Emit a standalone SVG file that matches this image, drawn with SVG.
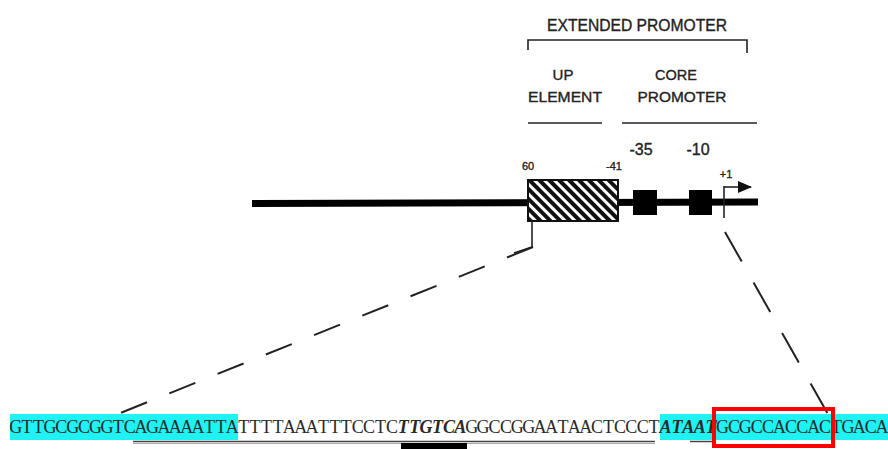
<svg xmlns="http://www.w3.org/2000/svg" width="888" height="449" viewBox="0 0 888 449">
<style>
.lbl{font-family:"Liberation Sans",Arial,sans-serif;fill:#222;stroke:#222;stroke-width:0.35;}
.seq{font-family:"Liberation Serif","Times New Roman",serif;font-size:18px;fill:#2a2a2a;}
.thin{stroke:#222;stroke-width:1.6;fill:none;}
.dash{stroke:#222;stroke-width:2;fill:none;}
</style>
<defs>
<pattern id="hatch" patternUnits="userSpaceOnUse" width="7" height="7" patternTransform="rotate(-45)">
<rect width="7" height="7" fill="#fff"/>
<rect x="0" y="0" width="4" height="7" fill="#111"/>
</pattern>
<marker id="arr" markerWidth="14" markerHeight="12" refX="13" refY="6" orient="auto" markerUnits="userSpaceOnUse">
<path d="M0,0 L14,6 L0,12 Z" fill="#111"/>
</marker>
</defs>
<rect width="888" height="449" fill="#fff"/>

<g id="extended-promoter">
<text class="lbl" x="637" y="31" font-size="16" text-anchor="middle" textLength="180" lengthAdjust="spacingAndGlyphs">EXTENDED PROMOTER</text>
<path d="M528,50 V40 H747 V53" class="thin" stroke-width="2"/>
</g>

<g id="up-element-label">
<text class="lbl" x="563" y="80" font-size="15" text-anchor="middle">UP</text>
<text class="lbl" x="565" y="102" font-size="15" text-anchor="middle" textLength="74" lengthAdjust="spacingAndGlyphs">ELEMENT</text>
<line x1="528" y1="123" x2="602" y2="123" class="thin"/>
</g>

<g id="core-promoter-label">
<text class="lbl" x="676" y="80" font-size="15" text-anchor="middle" textLength="42" lengthAdjust="spacingAndGlyphs">CORE</text>
<text class="lbl" x="682" y="102" font-size="15" text-anchor="middle" textLength="89" lengthAdjust="spacingAndGlyphs">PROMOTER</text>
<line x1="622" y1="123" x2="757" y2="123" class="thin"/>
</g>

<g id="dna-line">
<line x1="252" y1="203.5" x2="758" y2="202" stroke="#000" stroke-width="7"/>
</g>

<g id="up-element">
<rect x="528" y="180" width="90" height="41" fill="url(#hatch)" stroke="#111" stroke-width="2"/>
<text class="lbl" x="528" y="170" font-size="11" text-anchor="middle">60</text>
<text class="lbl" x="614" y="170" font-size="11" text-anchor="middle">-41</text>
</g>

<g id="box-35">
<rect x="633" y="190" width="24" height="25" fill="#000"/>
<text class="lbl" x="641" y="155" font-size="16" text-anchor="middle">-35</text>
</g>

<g id="box-10">
<rect x="689" y="190" width="23" height="25" fill="#000"/>
<text class="lbl" x="698" y="155" font-size="16" text-anchor="middle">-10</text>
</g>

<g id="tss">
<line x1="724" y1="186" x2="724" y2="218" class="thin"/>
<line x1="724" y1="187" x2="751" y2="187" class="thin" marker-end="url(#arr)"/>
<text class="lbl" x="726" y="178" font-size="11" text-anchor="middle">+1</text>
</g>

<g id="connectors">
<path d="M532,221 V247 L514,253" class="thin"/>
<line x1="533" y1="247" x2="113" y2="416" class="dash" stroke-dasharray="28,24"/>
<line x1="725" y1="232" x2="829" y2="416" class="dash" stroke-dasharray="34,24"/>
</g>

<g id="sequence">
<rect x="10" y="414" width="228" height="26" fill="#1ff2f2"/>
<rect x="660" y="414" width="228" height="26" fill="#1ff2f2"/>
<line x1="133" y1="441.5" x2="655" y2="441.5" stroke="#444" stroke-width="1.5"/>
<line x1="133" y1="443.5" x2="655" y2="443.5" stroke="#aaa" stroke-width="1"/>
<line x1="690" y1="441.5" x2="712" y2="441.5" stroke="#444" stroke-width="1.5"/>
<rect x="401" y="443" width="66" height="6" fill="#000"/>
<text class="seq" y="433" text-anchor="middle" x="15.7 27.1 38.5 49.9 61.3 72.7 84.1 95.5 106.9 118.3 129.7 141.1 152.5 163.9 175.3 186.7 198.1 209.5 220.9 232.3 243.7 255.1 266.5 277.9 289.3 300.7 312.1 323.5 334.9 346.3 357.7 369.1 380.5 391.9 403.3 414.7 426.1 437.5 448.9 460.3 471.7 483.1 494.5 505.9 517.3 528.7 540.1 551.5 562.9 574.3 585.7 597.1 608.5 619.9 631.3 642.7 654.1 665.5 676.9 688.3 699.7 711.1 722.5 733.9 745.3 756.7 768.1 779.5 790.9 802.3 813.7 825.1 836.5 847.9 859.3 870.7 882.1">GTTGCGCGGTCAGAAAATTATTTTAAATTTCCTC<tspan font-style="italic" font-weight="bold">TTGTCA</tspan>GGCCGGAATAACTCCCT<tspan font-style="italic" font-weight="bold">ATAAT</tspan>GCGCCACCACTGACA</text>
<rect x="714" y="409" width="119" height="37" fill="none" stroke="#f00" stroke-width="4"/>
</g>
</svg>
